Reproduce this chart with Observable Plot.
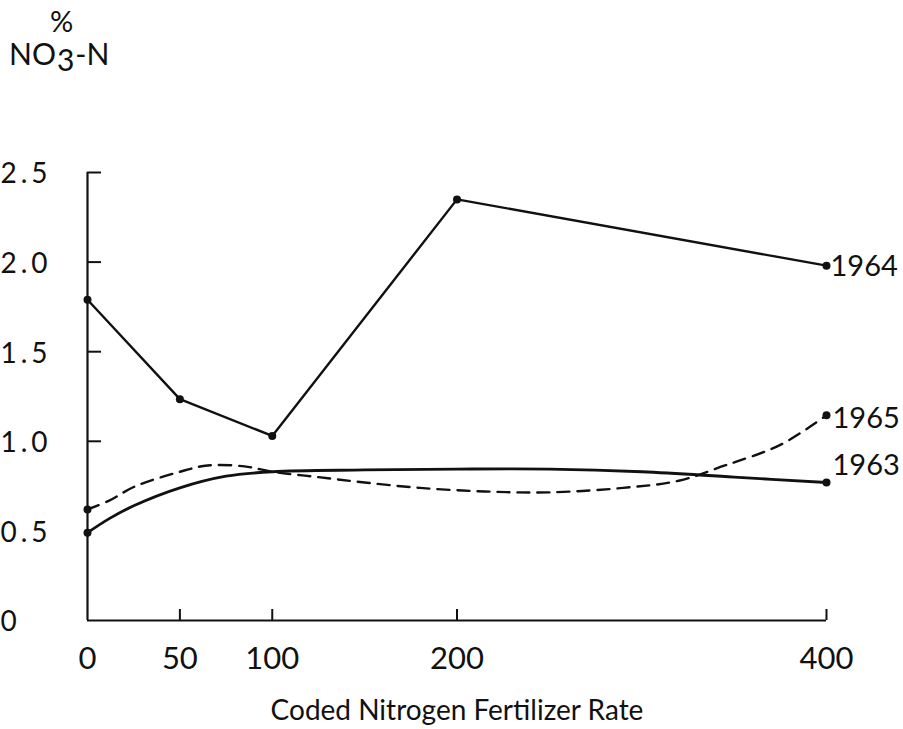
<!DOCTYPE html>
<html>
<head>
<meta charset="utf-8">
<script src="https://cdn.jsdelivr.net/npm/d3@7"></script>
<script src="https://cdn.jsdelivr.net/npm/@observablehq/plot@0.6"></script>
<style>
  body { margin: 0; background: #fff; }
  #wrap { position: relative; width: 903px; height: 729px; font-family: Lato, sans-serif; color: #111; }
  #pct { position: absolute; left: 50px; top: 3px; font-size: 29px; }
  #ylab { position: absolute; left: 9px; top: 35px; font-size: 30px; }
  #ylab sub { font-size: 30px; position: relative; top: 6px; vertical-align: baseline; margin-left: 1px; margin-right: 1px; }
</style>
</head>
<body>
<div id="wrap">
  <div id="pct">%</div>
  <div id="ylab">NO<sub>3</sub>-N</div>
</div>
<script>
const xTicks = [0, 50, 100, 200, 400];
const xTickMarks = [50, 100, 200, 400];
const yTicks = [0, 0.5, 1.0, 1.5, 2.0, 2.5];
const yTickMarks = [1.0, 1.5, 2.0, 2.5];

const rate1964 = [0, 50, 100, 200, 400];
const no3_1964 = [1.79, 1.235, 1.03, 2.35, 1.98];

const rate1963 = [0, 12, 25, 50, 75, 100, 150, 200, 250, 300, 350, 400];
const no3_1963 = [0.49, 0.57, 0.64, 0.74, 0.805, 0.83, 0.84, 0.845, 0.845, 0.83, 0.80, 0.77];

const rate1965 = [0, 12, 25, 50, 65, 85, 100, 125, 150, 180, 215, 250, 290, 320, 345, 375, 400];
const no3_1965 = [0.62, 0.67, 0.745, 0.83, 0.865, 0.86, 0.83, 0.80, 0.77, 0.74, 0.72, 0.715, 0.74, 0.78, 0.865, 0.98, 1.145];

const years = ["1964", "1965", "1963"];

const toRows = (xs, ys) => xs.map((x, i) => ({x, y: ys[i]}));
const s1964 = toRows(rate1964, no3_1964);
const s1963 = toRows(rate1963, no3_1963);
const s1965 = toRows(rate1965, no3_1965);
const last = (s) => s[s.length - 1];
const ends = (s) => [s[0], last(s)];

const font = "Lato, sans-serif";
const ink = "#111";

const chart = Plot.plot({
  width: 903,
  height: 729,
  marginLeft: 87,
  marginRight: 77,
  marginTop: 172,
  marginBottom: 109,
  style: {fontFamily: font, color: ink, background: "transparent"},
  x: {domain: [0, 400], axis: null},
  y: {domain: [0, 2.5], axis: null},
  marks: [
    // axes
    Plot.ruleX([0], {y1: 0, y2: 2.5, stroke: ink, strokeWidth: 2.2}),
    Plot.ruleY([0], {x1: 0, x2: 400, stroke: ink, strokeWidth: 2.2}),
    Plot.axisY(yTickMarks, {tickSize: -14, tickFormat: () => "", label: null, stroke: ink, strokeWidth: 2}),
    Plot.axisX(xTickMarks, {tickSize: -11, tickFormat: () => "", label: null, stroke: ink, strokeWidth: 2}),
    Plot.text(yTicks, {y: d => d, frameAnchor: "left", dx: -87, dy: 2, textAnchor: "start",
      text: d => d === 0 ? "0" : d.toFixed(1), fontSize: 28, fill: ink}),
    Plot.text(xTicks, {x: d => d, frameAnchor: "bottom", dy: 48, text: d => String(d), fontSize: 31, fill: ink}),
    Plot.text(["Coded Nitrogen Fertilizer Rate"], {frameAnchor: "bottom", dy: 99, fontSize: 28, fill: ink}),
    // series
    Plot.line(s1964, {x: "x", y: "y", stroke: ink, strokeWidth: 2.4}),
    Plot.dot(s1964, {x: "x", y: "y", r: 4, fill: ink}),
    Plot.line(s1963, {x: "x", y: "y", stroke: ink, strokeWidth: 2.8, curve: "catmull-rom"}),
    Plot.dot(ends(s1963), {x: "x", y: "y", r: 4, fill: ink}),
    Plot.line(s1965, {x: "x", y: "y", stroke: ink, strokeWidth: 2.4, strokeDasharray: "12,8", curve: "catmull-rom"}),
    Plot.dot(ends(s1965), {x: "x", y: "y", r: 4, fill: ink}),
    Plot.text([last(s1964)], {x: "x", y: "y", text: () => years[0], textAnchor: "start", dx: 4, dy: 1, fontSize: 29, fill: ink}),
    Plot.text([last(s1965)], {x: "x", y: "y", text: () => years[1], textAnchor: "start", dx: 6, dy: 3, fontSize: 29, fill: ink}),
    Plot.text([last(s1963)], {x: "x", y: "y", text: () => years[2], textAnchor: "start", dx: 6, dy: -17, fontSize: 29, fill: ink}),
  ]
});
d3.select(chart).selectAll("text")
  .filter(function() { return /^\d\.\d$/.test(this.textContent); })
  .style("letter-spacing", "4px");
document.getElementById("wrap").appendChild(chart);
</script>
</body>
</html>
